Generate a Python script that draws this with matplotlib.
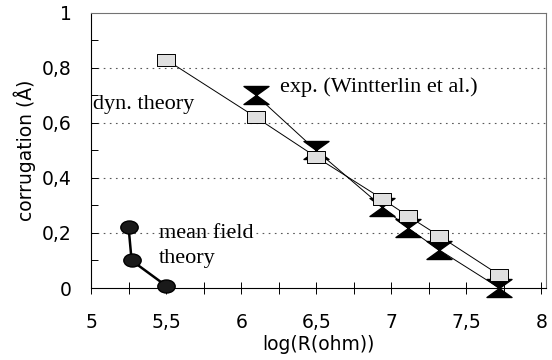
import matplotlib
matplotlib.use('Agg')
import matplotlib.pyplot as plt
import numpy as np
from matplotlib.path import Path

# dynamical theory (squares)
dyn_x = [5.5, 6.1, 6.5, 6.94, 7.11, 7.32, 7.72]
dyn_y = [0.83, 0.62, 0.476, 0.324, 0.262, 0.189, 0.047]

# experiment, Wintterlin et al. (hourglass markers)
exp_x = [6.1, 6.5, 6.94, 7.11, 7.32, 7.72]
exp_y = [0.70, 0.50, 0.295, 0.218, 0.138, 0.0]

# mean field theory (black ellipses)
mf_x = [5.25, 5.27, 5.5]
mf_y = [0.22, 0.10, 0.008]

xticks = [5, 5.5, 6, 6.5, 7, 7.5, 8]
xtick_labels = ['5', '5,5', '6', '6,5', '7', '7,5', '8']
yticks = [0, 0.2, 0.4, 0.6, 0.8, 1]
ytick_labels = ['0', '0,2', '0,4', '0,6', '0,8', '1']

# custom marker shapes
hourglass = Path([(-1, 0.72), (1, 0.72), (0, 0), (-1, 0.72),
                  (0, 0), (1, -0.72), (-1, -0.72), (0, 0)],
                 [Path.MOVETO, Path.LINETO, Path.LINETO, Path.CLOSEPOLY,
                  Path.MOVETO, Path.LINETO, Path.LINETO, Path.CLOSEPOLY])
rect = Path([(-1, 0.7), (1, 0.7), (1, -0.7), (-1, -0.7), (-1, 0.7)],
            [Path.MOVETO, Path.LINETO, Path.LINETO, Path.LINETO, Path.CLOSEPOLY])
circ = Path.unit_circle()
ellipse = Path(circ.vertices * np.array([1.0, 0.75]), circ.codes)

fig = plt.figure(figsize=(5.52, 3.6), dpi=100)
ax = fig.add_axes([0.165, 0.2, 0.824, 0.764])

for yy in [0.2, 0.4, 0.6, 0.8]:
    ax.axhline(yy, color='0.35', lw=0.8, ls=(0, (1.5, 4)), zorder=0)

ax.plot(exp_x, exp_y, color='black', lw=0.7, zorder=2)
ax.plot(dyn_x, dyn_y, color='black', lw=0.7, zorder=2)
ax.plot(exp_x, exp_y, ls='none', marker=hourglass, markersize=18,
        mfc='black', mec='black', zorder=3, clip_on=False)
ax.plot(dyn_x, dyn_y, ls='none', marker=rect, markersize=13,
        mfc='#e0e0e0', mec='black', mew=0.7, zorder=4)
ax.plot(mf_x, mf_y, color='black', lw=1.8, marker=ellipse, markersize=12.5,
        mfc='#1a1a1a', mec='black', zorder=4, clip_on=False)

ax.set_xlim(5, 8.03)
ax.set_ylim(0, 1)
ax.set_xticks(xticks)
ax.set_xticklabels(xtick_labels)
ax.set_xticks(np.arange(5.25, 8, 0.5), minor=True)
ax.set_yticks(yticks)
ax.set_yticklabels(ytick_labels)
ax.set_yticks(np.arange(0.1, 1, 0.2), minor=True)

for lab in ax.get_xticklabels() + ax.get_yticklabels():
    lab.set_fontfamily('DejaVu Sans')
    lab.set_fontsize(13.5)

ax.tick_params(axis='x', which='both', direction='inout', length=8, width=0.7, pad=14)
ax.tick_params(axis='y', which='both', direction='in', length=5, width=0.7, pad=14)

for s in ['left', 'bottom']:
    ax.spines[s].set_linewidth(0.8)
for s in ['top', 'right']:
    ax.spines[s].set_color('0.45')
    ax.spines[s].set_linewidth(0.8)

ax.set_xlabel('log(R(ohm))', fontfamily='DejaVu Sans', fontsize=13.5, labelpad=2)
ax.set_ylabel('corrugation (Å)', fontfamily='DejaVu Sans', fontsize=13.5, labelpad=4)

serif = 'Liberation Serif'
ax.text(5.013, 0.65, 'dyn. theory', fontfamily=serif, fontsize=16, va='baseline')
ax.text(6.26, 0.713, 'exp. (Wintterlin et al.)', fontfamily=serif, fontsize=16, va='baseline')
ax.text(5.453, 0.182, 'mean field', fontfamily=serif, fontsize=16, va='baseline')
ax.text(5.453, 0.091, 'theory', fontfamily=serif, fontsize=16, va='baseline')

fig.savefig('out.png', dpi=100)
